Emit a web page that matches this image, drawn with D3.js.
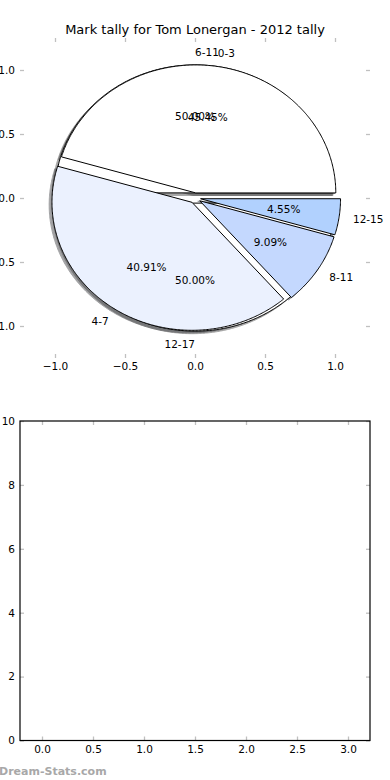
<!DOCTYPE html>
<html><head><meta charset="utf-8">
<script src="https://cdn.jsdelivr.net/npm/d3@7"></script>
<style>body{margin:0;background:#fff} svg{display:block;font-family:"DejaVu Sans",sans-serif}</style>
</head><body><svg id="c" width="390" height="780"></svg>
<script>
const title = "Mark tally for Tom Lonergan - 2012 tally";
const pie1Labels = ["0-3","4-7","8-11","12-15"];
const pie1Values = [10,9,2,1];
const pie1Colors = ["#ffffff","#ebf1fe","#c4d8fe","#b1d1fe"];
const pie2Labels = ["6-11","12-17"];
const pie2Values = [1,1];
const pie2Colors = ["#ffffff","#ffffff"];
const explode = 0.04;
const pieTicks = [-1,-0.5,0,0.5,1];
const barXTicks = [0,0.5,1,1.5,2,2.5,3];
const barYTicks = [0,2,4,6,8,10];
const watermark = "Dream-Stats.com";

const svg = d3.select("#c");
const tickColor = "#c0c0c0";
const fs = "10.5px";

// ---------- top (pie) axes ----------
const px = d3.scaleLinear().domain([-1.25,1.25]).range([20,370]);
const py = d3.scaleLinear().domain([-1.25,1.25]).range([358,38]);

function makeWedges(values, labels, colors){
  const total = d3.sum(values);
  const arcs = d3.pie().sort(null).startAngle(0).endAngle(2*Math.PI)(values);
  return arcs.map((a,i)=>{
    const mid=(a.startAngle+a.endAngle)/2;
    return {t1:a.startAngle,t2:a.endAngle,mid,
      cx:explode*Math.cos(mid), cy:explode*Math.sin(mid),
      color:colors[i], label:labels[i], pct:a.value/total*100};
  });
}
function wedgePath(w, ox, oy){
  const p=d3.path();
  const cx=w.cx+ox, cy=w.cy+oy;
  p.moveTo(px(cx),py(cy));
  const n=Math.max(8,Math.ceil((w.t2-w.t1)/0.01));
  for(let k=0;k<=n;k++){
    const t=w.t1+(w.t2-w.t1)*k/n;
    p.lineTo(px(cx+Math.cos(t)),py(cy+Math.sin(t)));
  }
  p.closePath();
  return p.toString();
}
const w1=makeWedges(pie1Values,pie1Labels,pie1Colors);
const w2=makeWedges(pie2Values,pie2Labels,pie2Colors);
const all=[...w2,...w1];

const gPie=svg.append("g");
// shadows
gPie.selectAll("path.sh").data(all).join("path").attr("class","sh")
  .attr("d",d=>wedgePath(d,-0.02,-0.02))
  .attr("fill",d=>{const c=d3.rgb(d.color);return d3.rgb(c.r*0.3,c.g*0.3,c.b*0.3).toString();})
  .attr("stroke",d=>{const c=d3.rgb(d.color);return d3.rgb(c.r*0.3,c.g*0.3,c.b*0.3).toString();})
  .attr("stroke-width",1).attr("opacity",0.5);
// wedges
gPie.selectAll("path.w").data(all).join("path").attr("class","w")
  .attr("d",d=>wedgePath(d,0,0))
  .attr("fill",d=>d.color).attr("stroke","#000").attr("stroke-width",1)
  .attr("stroke-linejoin","miter");
// texts
const fmt=d3.format(".2f");
[...w1,...w2].forEach(d=>{
  const lx=d.cx+1.1*Math.cos(d.mid), ly=d.cy+1.1*Math.sin(d.mid);
  gPie.append("text").attr("x",px(lx)).attr("y",py(ly)).attr("dy","0.36em")
    .attr("text-anchor",lx>0?"start":"end").attr("font-size",fs).text(d.label);
  const tx=d.cx+0.6*Math.cos(d.mid), ty=d.cy+0.6*Math.sin(d.mid);
  gPie.append("text").attr("x",px(tx)).attr("y",py(ty)).attr("dy","0.36em")
    .attr("text-anchor","middle").attr("font-size",fs).text(fmt(d.pct)+"%");
});

function styleAxis(g, keepDomain){
  if(!keepDomain) g.select(".domain").remove(); else g.select(".domain").attr("stroke","none");
  g.selectAll(".tick line").attr("stroke",tickColor).attr("stroke-width",1.3);
  g.selectAll(".tick text").attr("font-size",fs).attr("fill","#000").attr("font-family","DejaVu Sans, sans-serif");
}
const tf=d3.format(".1f");
svg.append("g").attr("transform","translate(0,358)")
  .call(d3.axisBottom(px).tickValues(pieTicks).tickSize(-4).tickPadding(5).tickFormat(tf)).call(styleAxis);
svg.append("g").attr("transform","translate(0,38)")
  .call(d3.axisTop(px).tickValues(pieTicks).tickSize(-4).tickFormat("")).call(styleAxis);
svg.append("g").attr("transform","translate(20,0)")
  .call(d3.axisLeft(py).tickValues(pieTicks).tickSize(-4).tickPadding(5).tickFormat(tf)).call(styleAxis);
svg.append("g").attr("transform","translate(370,0)")
  .call(d3.axisRight(py).tickValues(pieTicks).tickSize(-4).tickFormat("")).call(styleAxis);

svg.append("text").attr("x",195).attr("y",34).attr("text-anchor","middle")
  .attr("font-size","13px").text(title);

// ---------- bottom axes ----------
const bx=d3.scaleLinear().domain([-0.2157,3.2157]).range([20,370]);
const by=d3.scaleLinear().domain([0,10]).range([740.5,421]);
svg.append("g").attr("transform","translate(0,740.5)")
  .call(d3.axisBottom(bx).tickValues(barXTicks).tickSize(-4).tickPadding(5).tickFormat(tf)).call(styleAxis);
svg.append("g").attr("transform","translate(0,421)")
  .call(d3.axisTop(bx).tickValues(barXTicks).tickSize(-4).tickFormat("")).call(styleAxis);
svg.append("g").attr("transform","translate(20,0)")
  .call(d3.axisLeft(by).tickValues(barYTicks).tickSize(-4).tickPadding(5).tickFormat(d3.format("d"))).call(styleAxis);
svg.append("g").attr("transform","translate(370,0)")
  .call(d3.axisRight(by).tickValues(barYTicks).tickSize(-4).tickFormat("")).call(styleAxis);
svg.append("rect").attr("x",bx.range()[0]).attr("y",by.range()[1])
  .attr("width",bx.range()[1]-bx.range()[0]).attr("height",by.range()[0]-by.range()[1])
  .attr("fill","none").attr("stroke","#000").attr("stroke-width",1.2);

svg.append("text").attr("x",-1).attr("y",775).attr("font-size","11px").attr("font-weight","bold")
  .attr("fill","#a8a8a8").text(watermark);
</script></body></html>
